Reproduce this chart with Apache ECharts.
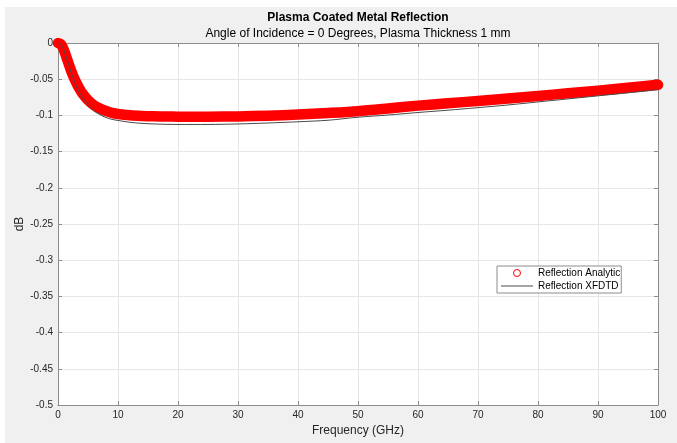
<!DOCTYPE html>
<html>
<head>
<meta charset="utf-8">
<script src="https://cdn.jsdelivr.net/npm/echarts@6/dist/echarts.min.js"></script>
<style>
  html, body { margin: 0; padding: 0; background: #ffffff; }
  #chart { position: absolute; left: 5px; top: 7px; width: 672px; height: 436px; background: #f0f0f0; }
</style>
</head>
<body>
<div id="chart"></div>
<script>
// Frequency sample points (GHz)
const freqAnalytic = [0, 0.5, 1, 1.5, 2, 2.5, 3, 3.5, 4, 5, 6, 7, 8, 9, 10, 12, 14, 16, 18, 20, 25, 30, 35, 40, 45, 50, 55, 60, 65, 70, 75, 80, 85, 90, 95, 100];
// Analytic reflection (dB)
const reflAnalytic = [0, -0.002, -0.010, -0.022, -0.034, -0.045, -0.054, -0.062, -0.069, -0.079, -0.086, -0.0905, -0.094, -0.0965, -0.098, -0.0998, -0.1007, -0.1012, -0.1015, -0.1017, -0.1018, -0.1014, -0.1004, -0.0988, -0.0967, -0.0942, -0.0905, -0.0865, -0.0833, -0.0800, -0.0766, -0.0731, -0.0695, -0.0658, -0.0619, -0.0578];

const freqXfdtd = [0, 0.5, 1, 1.5, 2, 2.5, 3, 3.5, 4, 5, 6, 7, 8, 9, 10, 12, 14, 16, 18, 20, 25, 30, 35, 40, 45, 50, 55, 60, 65, 70, 75, 80, 85, 90, 95, 100];
// XFDTD simulated reflection (dB)
const reflXfdtd = [0, -0.002, -0.010, -0.023, -0.036, -0.048, -0.058, -0.067, -0.074, -0.086, -0.094, -0.099, -0.103, -0.1055, -0.107, -0.1095, -0.111, -0.1118, -0.1123, -0.1125, -0.1125, -0.1118, -0.1105, -0.1088, -0.1067, -0.1025, -0.0995, -0.0960, -0.0928, -0.0893, -0.0856, -0.0814, -0.0772, -0.0730, -0.0688, -0.0645];

const seriesNames = ['Reflection Analytic', 'Reflection XFDTD'];
const titleText = 'Plasma Coated Metal Reflection';
const subtitleText = 'Angle of Incidence = 0 Degrees, Plasma Thickness 1 mm';
const xName = 'Frequency (GHz)';
const yName = 'dB';

const font = '"Liberation Sans", Arial, Helvetica, sans-serif';
const axisColor = '#8c8c8c';
const labelColor = '#262626';
const gridColor = '#e6e6e6';
const analyticColor = '#ff0000';
const xfdtdColor = '#4a4a4a';

const pairs = (xs, ys) => xs.map((x, i) => [x, ys[i]]);

const chart = echarts.init(document.getElementById('chart'), null, { renderer: 'canvas' });

const baseX = {
  type: 'value', min: 0, max: 100, interval: 10,
  axisLine: { show: true, onZero: false, lineStyle: { color: axisColor, width: 1 } },
  axisTick: { show: true, inside: true, length: 4, lineStyle: { color: axisColor } }
};
const baseY = {
  type: 'value', min: -0.5, max: 0, interval: 0.05,
  axisLine: { show: true, onZero: false, lineStyle: { color: axisColor, width: 1 } },
  axisTick: { show: true, inside: true, length: 4, lineStyle: { color: axisColor } }
};

chart.setOption({
  animation: false,
  backgroundColor: '#f0f0f0',
  textStyle: { fontFamily: font },
  title: [
    { text: titleText, left: 353, top: 5, textAlign: 'center', padding: 0,
      textStyle: { fontFamily: font, fontSize: 12, fontWeight: 'bold', color: '#000' } },
    { text: subtitleText, left: 353, top: 21, textAlign: 'center', padding: 0,
      textStyle: { fontFamily: font, fontSize: 12, fontWeight: 'normal', color: '#000' } }
  ],
  grid: {
    left: 53, right: 19, top: 36, bottom: 38,
    containLabel: false, outerBoundsMode: 'none',
    show: true, backgroundColor: '#ffffff', borderWidth: 0
  },
  legend: {
    orient: 'vertical', left: 492, top: 259,
    padding: [2, 1, 2, 4], itemGap: 3, itemWidth: 32, itemHeight: 7,
    backgroundColor: '#ffffff', borderColor: axisColor, borderWidth: 1,
    selectedMode: false,
    textStyle: { fontFamily: font, fontSize: 10, color: '#000' },
    data: [
      { name: seriesNames[0], icon: 'circle',
        itemStyle: { color: 'rgba(255,255,255,0)', borderColor: analyticColor, borderWidth: 1 } },
      { name: seriesNames[1], icon: 'path://M0,0 L32,0 L32,1 L0,1 Z',
        itemStyle: { color: xfdtdColor, borderWidth: 0 } }
    ]
  },
  xAxis: [
    Object.assign({}, baseX, {
      position: 'bottom',
      name: xName, nameLocation: 'middle', nameGap: 20, nameMoveOverlap: false,
      nameTextStyle: { fontFamily: font, fontSize: 12, color: labelColor },
      axisLabel: { fontFamily: font, fontSize: 10, color: labelColor, margin: 5 },
      splitLine: { show: true, lineStyle: { color: gridColor, width: 1 } }
    }),
    Object.assign({}, baseX, {
      position: 'top',
      axisLabel: { show: false },
      splitLine: { show: false }
    })
  ],
  yAxis: [
    Object.assign({}, baseY, {
      position: 'left',
      name: yName, nameLocation: 'middle', nameGap: 32, nameMoveOverlap: false,
      nameTextStyle: { fontFamily: font, fontSize: 12, color: labelColor },
      axisLabel: { fontFamily: font, fontSize: 10, color: labelColor, margin: 5 },
      splitLine: { show: true, lineStyle: { color: gridColor, width: 1 } }
    }),
    Object.assign({}, baseY, {
      position: 'right',
      axisLabel: { show: false },
      splitLine: { show: false }
    })
  ],
  series: [
    {
      name: seriesNames[0], type: 'line', symbol: 'none', smooth: 0.3,
      xAxisIndex: 0, yAxisIndex: 0, z: 2,
      data: pairs(freqAnalytic, reflAnalytic),
      itemStyle: { color: analyticColor },
      lineStyle: { color: analyticColor, width: 10.5, cap: 'round', join: 'round' }
    },
    {
      name: seriesNames[1], type: 'line', symbol: 'none', smooth: 0.3,
      xAxisIndex: 0, yAxisIndex: 0, z: 3,
      data: pairs(freqXfdtd, reflXfdtd),
      itemStyle: { color: xfdtdColor },
      lineStyle: { color: xfdtdColor, width: 1 }
    }
  ]
});
</script>
</body>
</html>
